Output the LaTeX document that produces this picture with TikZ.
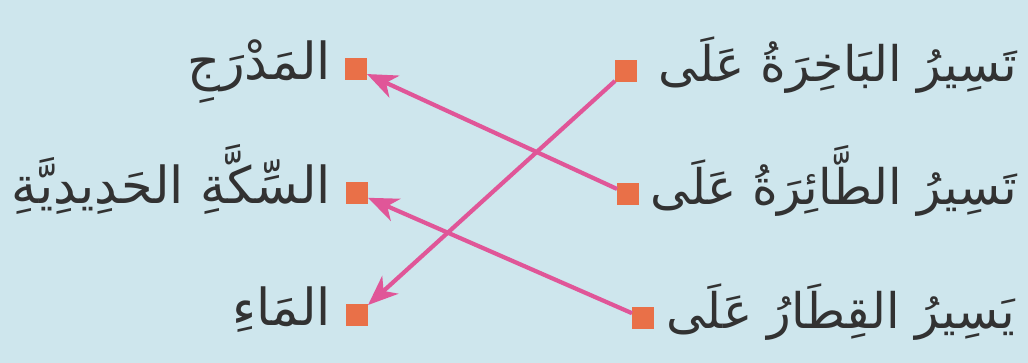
\documentclass[tikz,border=0pt]{standalone}
\usepackage{fontspec}
\usetikzlibrary{arrows.meta}
\TeXXeTstate=1
\newfontfamily\arabicfont[Script=Arabic]{DejaVu Sans}
\definecolor{bgblue}{RGB}{206,230,237}
\definecolor{sqorange}{RGB}{233,112,72}
\definecolor{arrpink}{RGB}{224,86,152}
\definecolor{txtgrey}{RGB}{50,50,50}
\tikzset{
  sq/.style={fill=sqorange, minimum size=22pt, inner sep=0pt, outer sep=0pt},
  lbl/.style={anchor=base east, inner sep=0pt, text=txtgrey, font=\arabicfont\fontsize{51}{58}\selectfont},
  lblr/.style={lbl, font=\arabicfont\fontsize{49}{56}\selectfont},
  arr/.style={draw=arrpink, line width=4.2pt, -{Stealth[length=30pt, width=24pt, inset=9pt]}, shorten >=0pt},
}
\begin{document}
\begin{tikzpicture}[x=1pt, y=-1pt]
\fill[bgblue] (0,0) rectangle (1028,363);
\useasboundingbox (0,0) rectangle (1028,363);
% squares
\node[sq] (r1) at (626,71) {};
\node[sq] (r2) at (628,194) {};
\node[sq] (r3) at (643,318) {};
\node[sq] (l1) at (356,69) {};
\node[sq] (l2) at (357,193) {};
\node[sq] (l3) at (357,315) {};
% right column
\node[lblr] (t1) at (1017,82) {\beginR تَسِيرُ البَاخِرَةُ عَلَى\endR};
\node[lblr] (t2) at (1017,205) {\beginR تَسِيرُ الطَّائِرَةُ عَلَى\endR};
\node[lblr] (t3) at (1015,329) {\beginR يَسِيرُ القِطَارُ عَلَى\endR};
% left column
\node[lbl] (s1) at (331,80) {\beginR المَدْرَجِ\endR};
\node[lbl] (s2) at (331,204) {\beginR السِّكَّةِ الحَدِيدِيَّةِ\endR};
\node[lbl] (s3) at (331,326) {\beginR المَاءِ\endR};
% connectors
\draw[arr] (r2) -- (l1);
\draw[arr] (r1) -- (l3);
\draw[arr] (r3) -- (l2);
\end{tikzpicture}
\end{document}
